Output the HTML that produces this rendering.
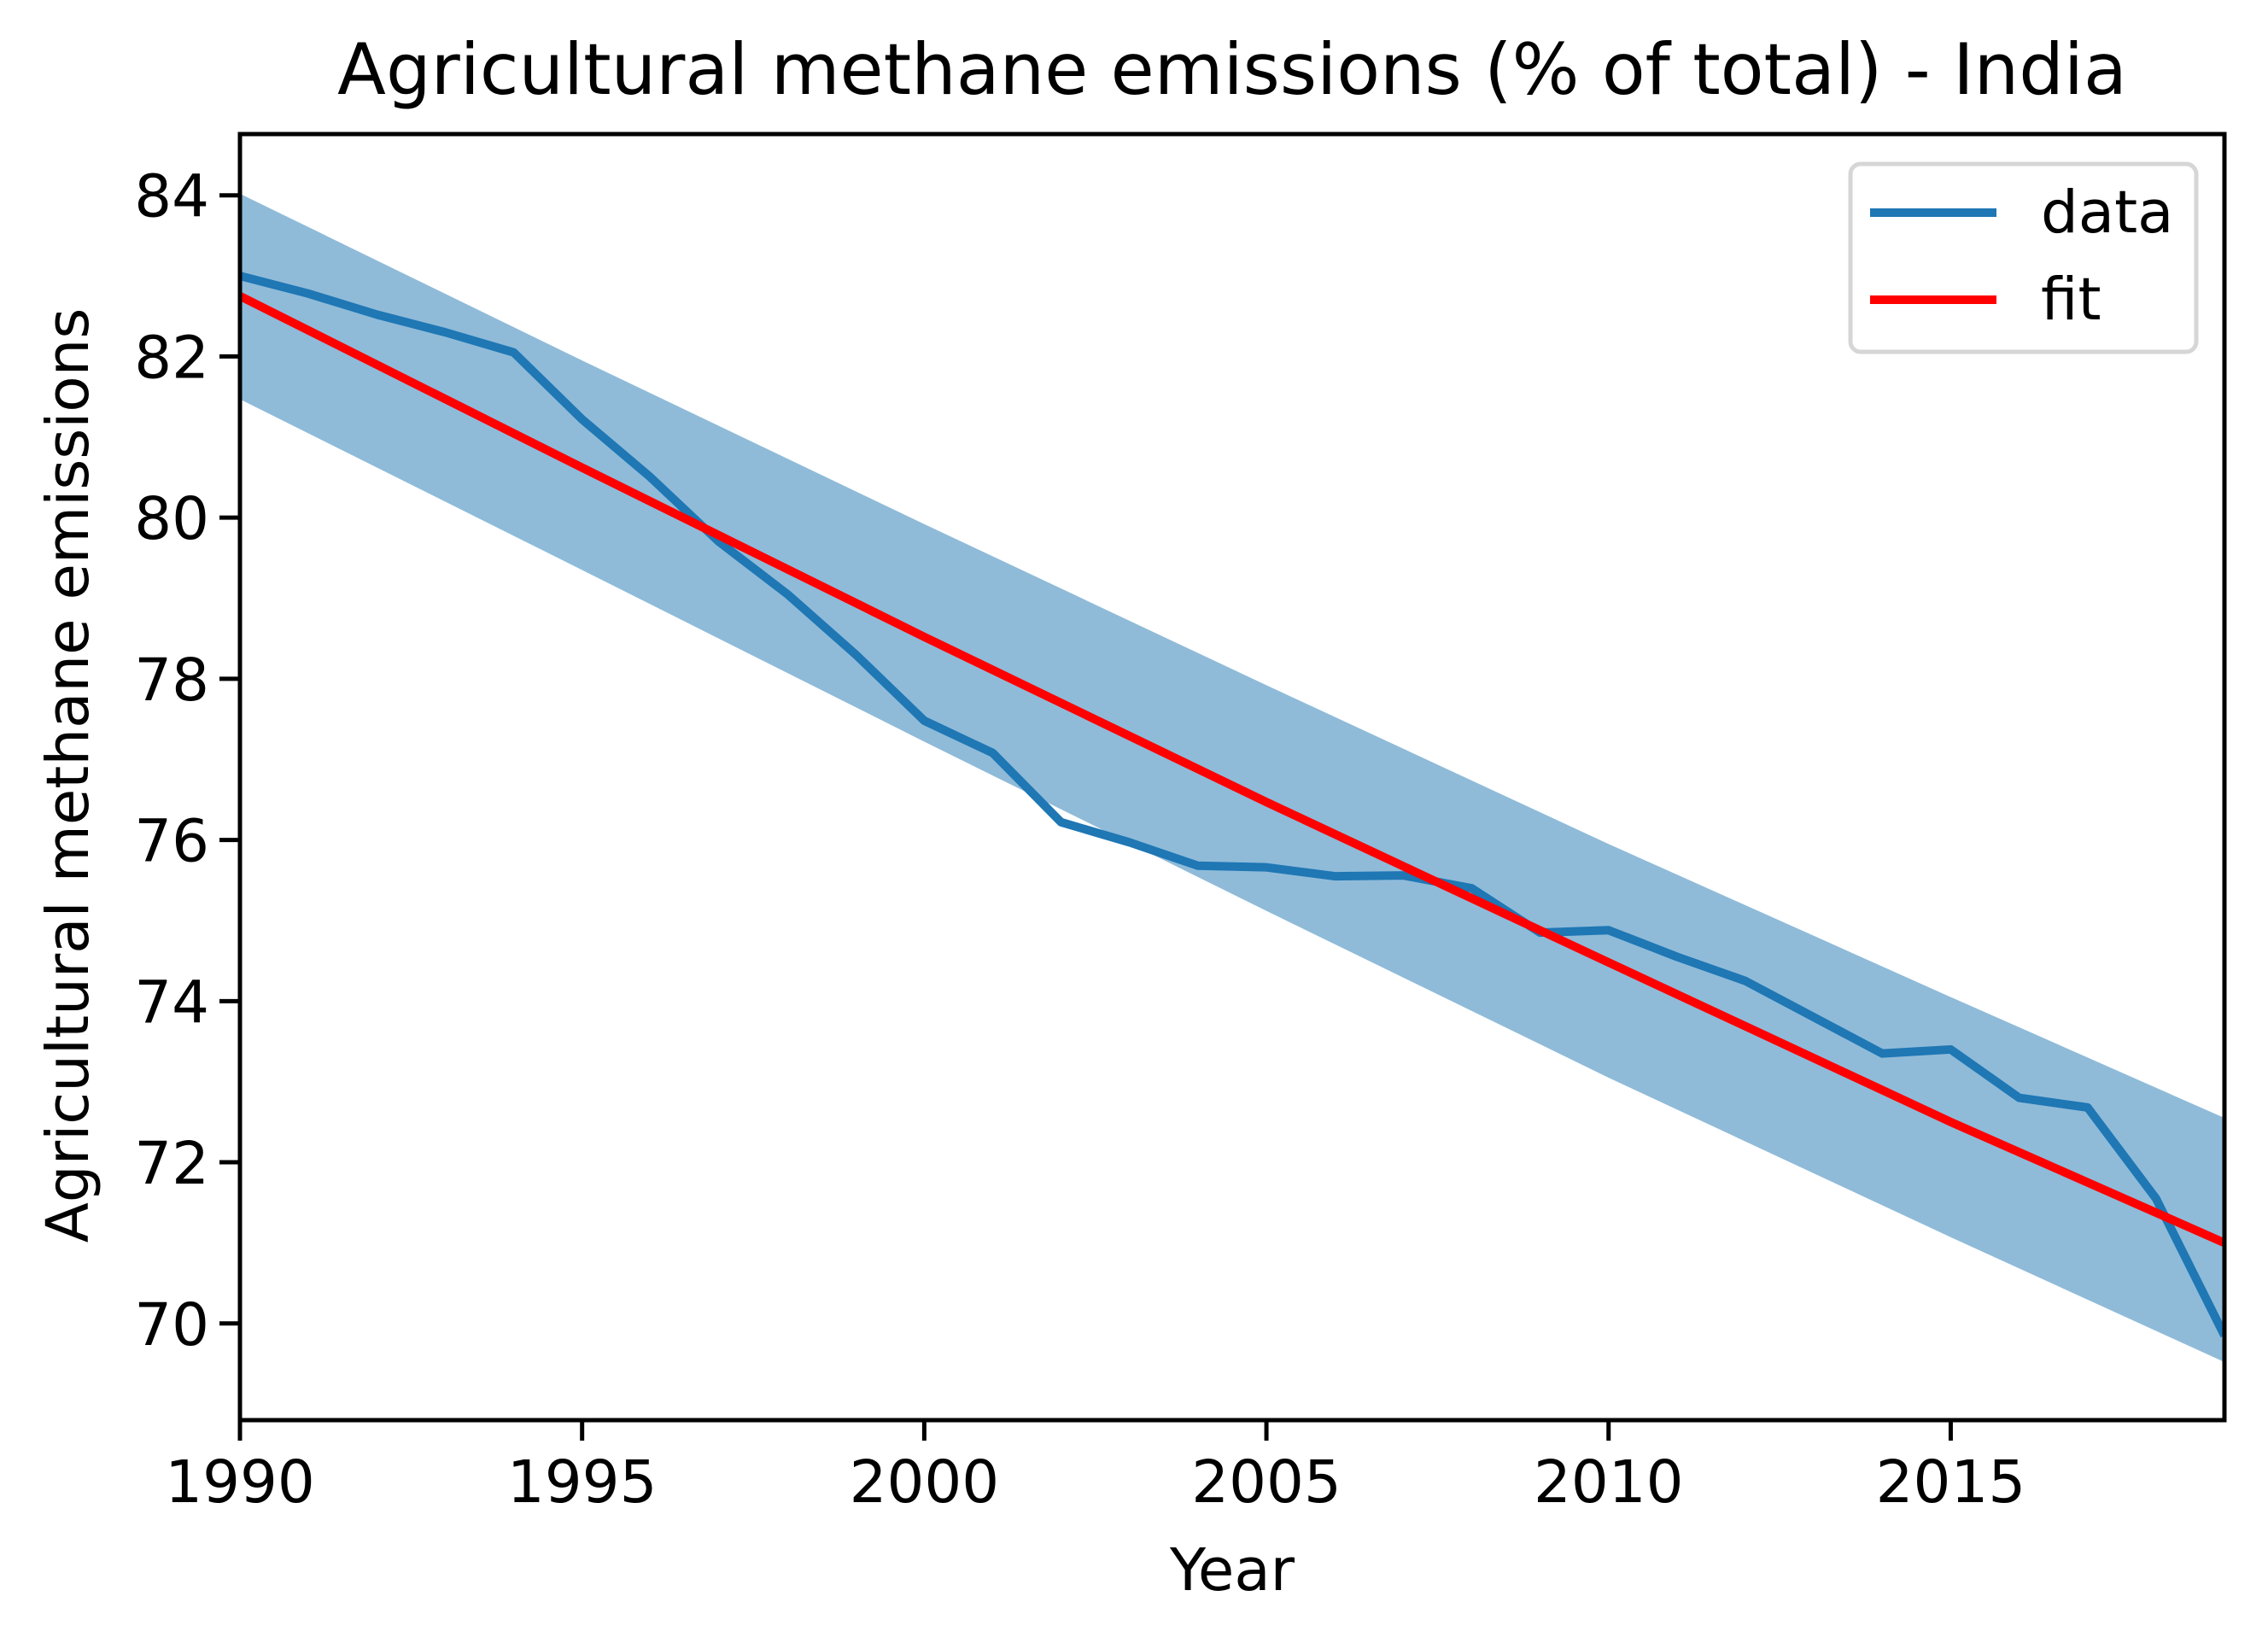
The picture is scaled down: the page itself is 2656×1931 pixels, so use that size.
<!DOCTYPE html>
<html><head><meta charset="utf-8"><style>
html,body{margin:0;padding:0;background:#fff;}
svg text{font-family:"DejaVu Sans","Liberation Sans",sans-serif;fill:#000;}
</style></head><body>
<svg id="chart" width="2656" height="1926" viewBox="0 0 2656 1926" xmlns="http://www.w3.org/2000/svg">
<rect width="2656" height="1926" fill="#fff"/>
<text x="1443" y="110" font-size="83" text-anchor="middle">Agricultural methane emissions (% of total) - India</text>
<g id="plot"></g>
<text x="1443" y="1862" font-size="69" text-anchor="middle">Year</text>
<text transform="translate(103,908) rotate(-90)" font-size="69" text-anchor="middle">Agricultural methane emissions</text>
<g>
<rect x="2167" y="192" width="405" height="220" rx="12" fill="#fff" fill-opacity="0.8" stroke="#d6d6d6" stroke-width="5"/>
<line x1="2190" y1="249" x2="2338" y2="249" stroke="#1f77b4" stroke-width="10"/>
<text x="2390" y="272" font-size="69">data</text>
<line x1="2190" y1="351" x2="2338" y2="351" stroke="#ff0000" stroke-width="10"/>
<text x="2390" y="374" font-size="69">fit</text>
</g>
</svg>
<script>
const years=[1990,1991,1992,1993,1994,1995,1996,1997,1998,1999,2000,2001,2002,2003,2004,2005,2006,2007,2008,2009,2010,2011,2012,2013,2014,2015,2016,2017,2018,2019];
const dataValues=[83.0,82.78,82.52,82.3,82.05,81.22,80.5,79.7,79.05,78.3,77.48,77.08,76.22,75.97,75.68,75.66,75.55,75.56,75.4,74.85,74.88,74.55,74.25,73.8,73.35,73.4,72.8,72.68,71.55,69.85];
const fitYears=[1990,1995,2000,2005,2010,2015,2019];
const fitValues=[82.75,80.62,78.52,76.47,74.48,72.5,71.0];
const bandUpper=[84.02,81.95,79.92,77.92,75.95,74.05,72.55];
const bandLower=[81.47,79.35,77.22,75.12,73.05,71.07,69.52];
const xTicks=[1990,1995,2000,2005,2010,2015];
const yTicks=[70,72,74,76,78,80,82,84];

const L=281,R=2605,T=157,B=1663;
const xMin=1990,xMax=2019,yMin=68.8,yMax=84.76;
const X=v=>L+(v-xMin)/(xMax-xMin)*(R-L);
const Y=v=>B-(v-yMin)/(yMax-yMin)*(B-T);
const NS="http://www.w3.org/2000/svg";
const g=document.getElementById('plot');
function mk(tag,attrs){const e=document.createElementNS(NS,tag);for(const k in attrs)e.setAttribute(k,attrs[k]);return e;}

const clip=mk('clipPath',{id:'clipA'});clip.appendChild(mk('rect',{x:L,y:T,width:R-L,height:B-T}));g.appendChild(clip);

let bp=fitYears.map((y,i)=>X(y)+','+Y(bandUpper[i]));
for(let i=fitYears.length-1;i>=0;i--)bp.push(X(fitYears[i])+','+Y(bandLower[i]));
const band=mk('polygon',{points:bp.join(' '),fill:'#1f77b4','fill-opacity':'0.5','clip-path':'url(#clipA)'});


g.appendChild(band);

const dl=mk('polyline',{points:years.map((y,i)=>X(y)+','+Y(dataValues[i])).join(' '),fill:'none',stroke:'#1f77b4','stroke-width':'10','stroke-linejoin':'round','clip-path':'url(#clipA)'});


g.appendChild(dl);

const fl=mk('polyline',{points:fitYears.map((y,i)=>X(y)+','+Y(fitValues[i])).join(' '),fill:'none',stroke:'#ff0000','stroke-width':'10','clip-path':'url(#clipA)'});


g.appendChild(fl);

const frame=mk('rect',{x:L,y:T,width:R-L,height:B-T,fill:'none',stroke:'#000','stroke-width':'5'});


g.appendChild(frame);

xTicks.forEach(t=>{
  const tk=mk('line',{x1:X(t),x2:X(t),y1:B,y2:B+24,stroke:'#000','stroke-width':'5'});
  
  
  g.appendChild(tk);
  const tx=mk('text',{x:X(t),y:B+96,'font-size':'69','text-anchor':'middle'});
  tx.textContent=t;
  
  
  g.appendChild(tx);
});
yTicks.forEach(t=>{
  const tk=mk('line',{x1:L-24,x2:L,y1:Y(t),y2:Y(t),stroke:'#000','stroke-width':'5'});
  
  
  g.appendChild(tk);
  const tx=mk('text',{x:L-36,y:Y(t)+25,'font-size':'69','text-anchor':'end'});
  tx.textContent=t;
  
  
  g.appendChild(tx);
});
</script>
</body></html>
